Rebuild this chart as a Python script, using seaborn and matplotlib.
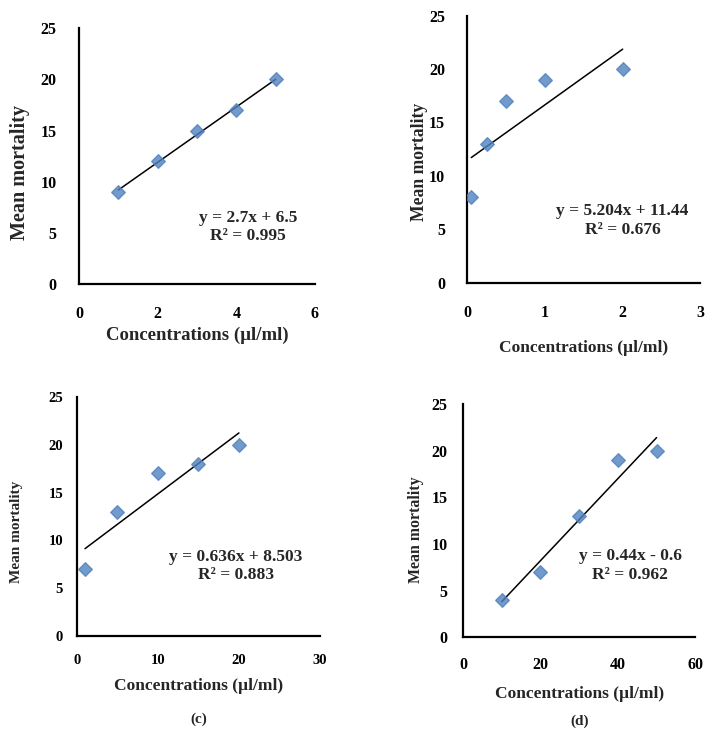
import numpy as np
import matplotlib
matplotlib.use("Agg")
import matplotlib.pyplot as plt
import seaborn as sns

# Mean mortality vs concentration, four panels
x_a = [1, 2, 3, 4, 5]
y_a = [9, 12, 15, 17, 20]
x_b = [0.05, 0.25, 0.5, 1, 2]
y_b = [8, 13, 17, 19, 20]
x_c = [1, 5, 10, 15, 20]
y_c = [7, 13, 17, 18, 20]
x_d = [10, 20, 30, 40, 50]
y_d = [4, 7, 13, 19, 20]

eq_text = ["y = 2.7x + 6.5\nR² = 0.995",
           "y = 5.204x + 11.44\nR² = 0.676",
           "y = 0.636x + 8.503\nR² = 0.883",
           "y = 0.44x - 0.6\nR² = 0.962"]
xmax = [6, 3, 30, 60]
xticks = [[0, 2, 4, 6], [0, 1, 2, 3], [0, 10, 20, 30], [0, 20, 40, 60]]
captions = [None, None, "(c)", "(d)"]

sns.set_style("white")
plt.rcParams["font.family"] = ["Liberation Serif", "DejaVu Serif"]
plt.rcParams["font.weight"] = "bold"

fig = plt.figure(figsize=(7.19, 7.40), dpi=100)
rects = [[0.110, 0.616, 0.328, 0.346],
         [0.650, 0.618, 0.324, 0.361],
         [0.107, 0.1405, 0.338, 0.323],
         [0.644, 0.139, 0.323, 0.315]]
# text positions in data coords
eq_pos = [(4.3, 3.9), (2.0, 4.2), (19.6, 5.5), (43.2, 5.85)]
xlab_size = [13.5, 12.5, 12.5, 12.5]
ylab_size = [14.5, 12.7, 11, 11.4]
tick_size = [11.5, 11.5, 10.5, 11.5]
eq_size = [12.5, 12.5, 12.5, 12.5]
xtick_pad = [16, 16, 13, 14]
ytick_pad = [16, 16, 10, 11]
xlab_pad = [3, 14, 8, 10]
ylab_pad = [8, 1, 18, 5.5]
ylab_y = [0.4375, 0.453, 0.435, 0.461]

data = [(x_a, y_a), (x_b, y_b), (x_c, y_c), (x_d, y_d)]
for i, (xs, ys) in enumerate(data):
    ax = fig.add_axes(rects[i])
    sns.regplot(x=xs, y=ys, ci=None, ax=ax, marker="D",
                scatter_kws={"color": "#4f81bd", "s": 48, "zorder": 3},
                line_kws={"color": "black", "lw": 1.1, "zorder": 2})
    ax.set_xlim(0, xmax[i])
    ax.set_ylim(0, 25)
    ax.set_xticks(xticks[i])
    ax.set_yticks([0, 5, 10, 15, 20, 25])
    for s in ["top", "right"]:
        ax.spines[s].set_visible(False)
    for s in ["left", "bottom"]:
        ax.spines[s].set_linewidth(1.6)
        ax.spines[s].set_color("black")
    ax.tick_params(direction="in", length=4, width=1.2, labelsize=tick_size[i],
                   colors="black")
    ax.tick_params(axis="x", pad=xtick_pad[i])
    ax.tick_params(axis="y", pad=ytick_pad[i])
    for lab in ax.get_xticklabels() + ax.get_yticklabels():
        lab.set_fontweight("bold")
    ax.set_xlabel("Concentrations (µl/ml)", fontsize=xlab_size[i],
                  fontweight="bold", labelpad=xlab_pad[i])
    ax.set_ylabel("Mean mortality", fontsize=ylab_size[i],
                  fontweight="bold", labelpad=ylab_pad[i])
    ax.yaxis.label.set_y(ylab_y[i])
    ax.text(eq_pos[i][0], eq_pos[i][1], eq_text[i], ha="center", va="bottom",
            fontsize=eq_size[i], fontweight="bold", linespacing=1.2)
    if captions[i]:
        ax.text(0.5, -0.32 if i == 2 else -0.33, captions[i], transform=ax.transAxes,
                ha="center", va="top", fontsize=11, fontweight="bold")

fig.savefig("out.png", dpi=100, facecolor="white")
